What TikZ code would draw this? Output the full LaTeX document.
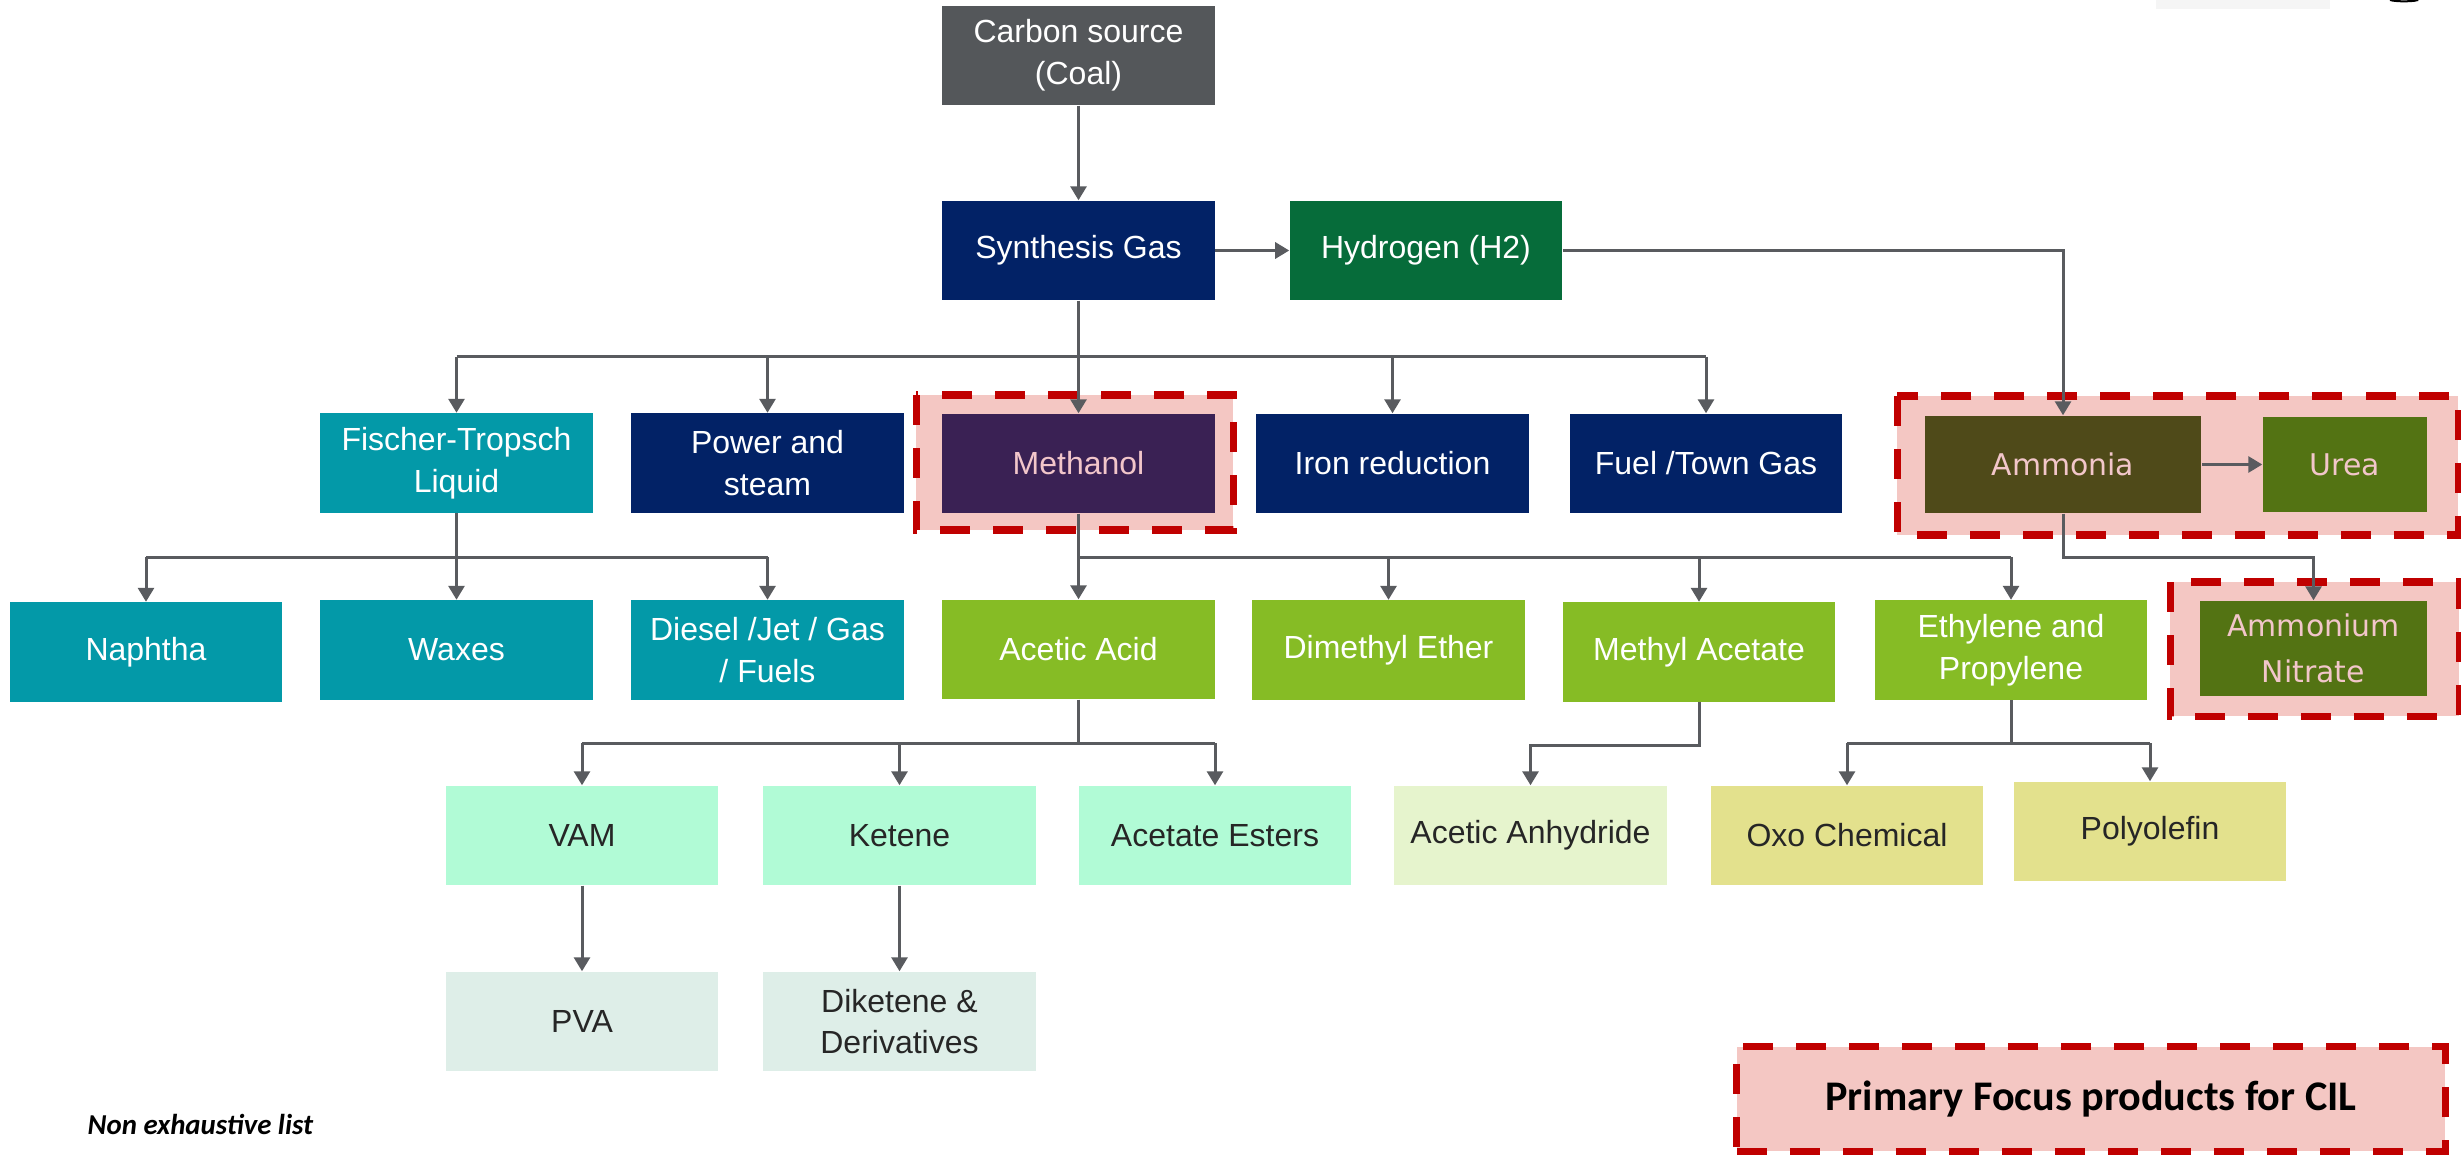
\documentclass[tikz,border=0pt]{standalone}
\usepackage{fontspec}
\setmainfont{Liberation Sans}
\newfontfamily\notefont{Carlito}
\newfontfamily\wideFont{DejaVu Sans}
\usepackage{xcolor}
\usetikzlibrary{arrows.meta}
\usetikzlibrary{positioning}
\definecolor{coalgray}{HTML}{54575A}
\definecolor{navy}{HTML}{022266}
\definecolor{hgreen}{HTML}{066C3A}
\definecolor{teal}{HTML}{0399A8}
\definecolor{meohpurple}{HTML}{3A2154}
\definecolor{nhthree}{HTML}{4F4A19}
\definecolor{ureagreen}{HTML}{537313}
\definecolor{leaf}{HTML}{86BC25}
\definecolor{mint}{HTML}{B1FBD6}
\definecolor{paleleaf}{HTML}{E6F4CD}
\definecolor{straw}{HTML}{E3E18D}
\definecolor{frost}{HTML}{DEEEE8}
\definecolor{focusfill}{HTML}{F4C7C3}
\definecolor{focusred}{HTML}{C00000}
\definecolor{pinktext}{HTML}{F2C6CA}
\definecolor{linegray}{HTML}{595B5F}
\definecolor{inkgray}{HTML}{262626}

\begin{document}
\begin{tikzpicture}[x=0.01cm, y=-0.01cm,
	box/.style={minimum width=2.72cm, minimum height=0.99cm, inner sep=0pt, align=center,
		font=\fontsize{9.1}{11.9}\selectfont},
	dark/.style={box, text=white},
	light/.style={box, text=inkgray},
	focus/.style={fill=focusfill, draw=focusred, line width=0.07cm, dash pattern=on 0.3cm off 0.23cm},
	line/.style={draw=linegray, line width=0.03cm},
	conn/.style={line, -{Triangle[length=0.14cm,width=0.16cm]}}]
	% page
	\fill[white] (0,0) rectangle (2461,1155);
	\useasboundingbox (0,0) rectangle (2461,1155);
	\fill[black!4] (2156,0) rectangle (2330,9);
	\draw[black, line width=0.02cm] (2390,0) arc (200:340:0.15cm and 0.02cm);
	% highlight frames
	\filldraw[focus] (916,395) rectangle (1233,530);
	\filldraw[focus] (1897,396) rectangle (2458,535);
	\filldraw[focus] (2170,582) rectangle (2459,716);
	% top rows
	\node[dark, fill=coalgray] (coal) at (1078.5,55.5) {Carbon source\\(Coal)};
	\node[dark, fill=navy] (syngas) at (1078.5,250.5) {Synthesis Gas};
	\node[dark, fill=hgreen] (h2) at (1426,250.5) {Hydrogen (H2)};
	\node[dark, fill=teal] (ft) at (456.5,463) {Fischer-Tropsch\\Liquid};
	\node[dark, fill=navy] (power) at (767.5,463) {Power and\\steam};
	\node[box, fill=meohpurple, text=pinktext] (methanol) at (1078.5,463.5) {Methanol};
	\node[dark, fill=navy] (iron) at (1392.5,463.5) {Iron reduction};
	\node[dark, fill=navy] (fuel) at (1706,463.5) {Fuel /Town Gas};
	\node[box, fill=nhthree, text=pinktext, minimum width=2.76cm, minimum height=0.97cm,
		font=\wideFont\fontsize{8.5}{13}\selectfont] (ammonia) at (2063,464.5) {Ammonia};
	\node[box, fill=ureagreen, text=pinktext, minimum width=1.64cm, minimum height=0.95cm,
		font=\wideFont\fontsize{8.5}{13}\selectfont] (urea) at (2345,464.5) {Urea};
	% third row
	\node[dark, fill=teal] (naphtha) at (146,652) {Naphtha};
	\node[dark, fill=teal] (waxes) at (456.5,650) {Waxes};
	\node[dark, fill=teal] (diesel) at (767.5,650) {Diesel /Jet / Gas\\/ Fuels};
	\node[dark, fill=leaf] (acetic) at (1078.5,649.5) {Acetic Acid};
	\node[dark, fill=leaf] (dme) at (1388.5,650) {Dimethyl Ether};
	\node[dark, fill=leaf] (ma) at (1699,652) {Methyl Acetate};
	\node[dark, fill=leaf] (ethylene) at (2011,650) {Ethylene and\\Propylene};
	\node[box, fill=ureagreen, text=pinktext, minimum width=2.27cm, minimum height=0.95cm,
		font=\wideFont\fontsize{8.5}{13}\selectfont] (an) at (2313.5,648.5) {Ammonium\\Nitrate};
	% fourth and fifth rows
	\node[light, fill=mint] (vam) at (582,835.5) {VAM};
	\node[light, fill=mint] (ketene) at (899.5,835.5) {Ketene};
	\node[light, fill=mint] (acetate) at (1215,835.5) {Acetate Esters};
	\node[light, fill=paleleaf] (anhydride) at (1530.5,835.5) {Acetic Anhydride};
	\node[light, fill=straw] (oxo) at (1847,835.5) {Oxo Chemical};
	\node[light, fill=straw] (polyolefin) at (2150,831.5) {Polyolefin};
	\node[light, fill=frost] (pva) at (582,1021.5) {PVA};
	\node[light, fill=frost] (diketene) at (899.5,1021.5) {Diketene \&\\Derivatives};
	% connectors
	\draw[conn] (coal) -- (syngas);
	\draw[conn] (syngas) -- (h2);
	\draw[conn] (h2.east) -| (ammonia.north);
	\coordinate (sgbus) at (1078.5,357);
	\draw[line] (syngas.south) -- (sgbus);
	\draw[line] (sgbus -| ft.north) -- (sgbus -| fuel.north);
	\foreach \n in {ft,power,methanol,iron,fuel}
		\draw[conn] (sgbus -| \n.north) -- (\n.north);
	\coordinate (ftbus) at (456.5,557);
	\draw[line] (ft.south) -- (ftbus);
	\draw[line] (ftbus -| naphtha.north) -- (ftbus -| diesel.north);
	\foreach \n in {naphtha,waxes,diesel}
		\draw[conn] (ftbus -| \n.north) -- (\n.north);
	\coordinate (mebus) at (1078.5,557);
	\draw[line] (methanol.south) -- (mebus);
	\draw[line] (mebus) -- (mebus -| ethylene.north);
	\foreach \n in {acetic,dme,ma,ethylene}
		\draw[conn] (mebus -| \n.north) -- (\n.north);
	\draw[conn] (ammonia.east) -- (urea.west);
	\draw[conn] (ammonia.south) -- ++(0,44) -| (an.north);
	\coordinate (acbus) at (1078.5,743);
	\draw[line] (acetic.south) -- (acbus);
	\draw[line] (acbus -| vam.north) -- (acbus -| acetate.north);
	\foreach \n in {vam,ketene,acetate}
		\draw[conn] (acbus -| \n.north) -- (\n.north);
	\draw[conn] (ma.south) -- ++(0,43) -| (anhydride.north);
	\coordinate (etbus) at (2011,743);
	\draw[line] (ethylene.south) -- (etbus);
	\draw[line] (etbus -| oxo.north) -- (etbus -| polyolefin.north);
	\foreach \n in {oxo,polyolefin}
		\draw[conn] (etbus -| \n.north) -- (\n.north);
	\draw[conn] (vam) -- (pva);
	\draw[conn] (ketene) -- (diketene);
	% key and note
	\node[focus, minimum width=7.08cm, minimum height=1.04cm, inner sep=0pt,
		font=\notefont\bfseries\fontsize{12}{14}\selectfont] (key) at (2091,1099) {Primary Focus products for CIL};
	\node[anchor=base west, inner sep=0pt, font=\notefont\bfseries\itshape\fontsize{8.2}{10}\selectfont] (note) at (87,1134) {Non exhaustive list};
\end{tikzpicture}
\end{document}
